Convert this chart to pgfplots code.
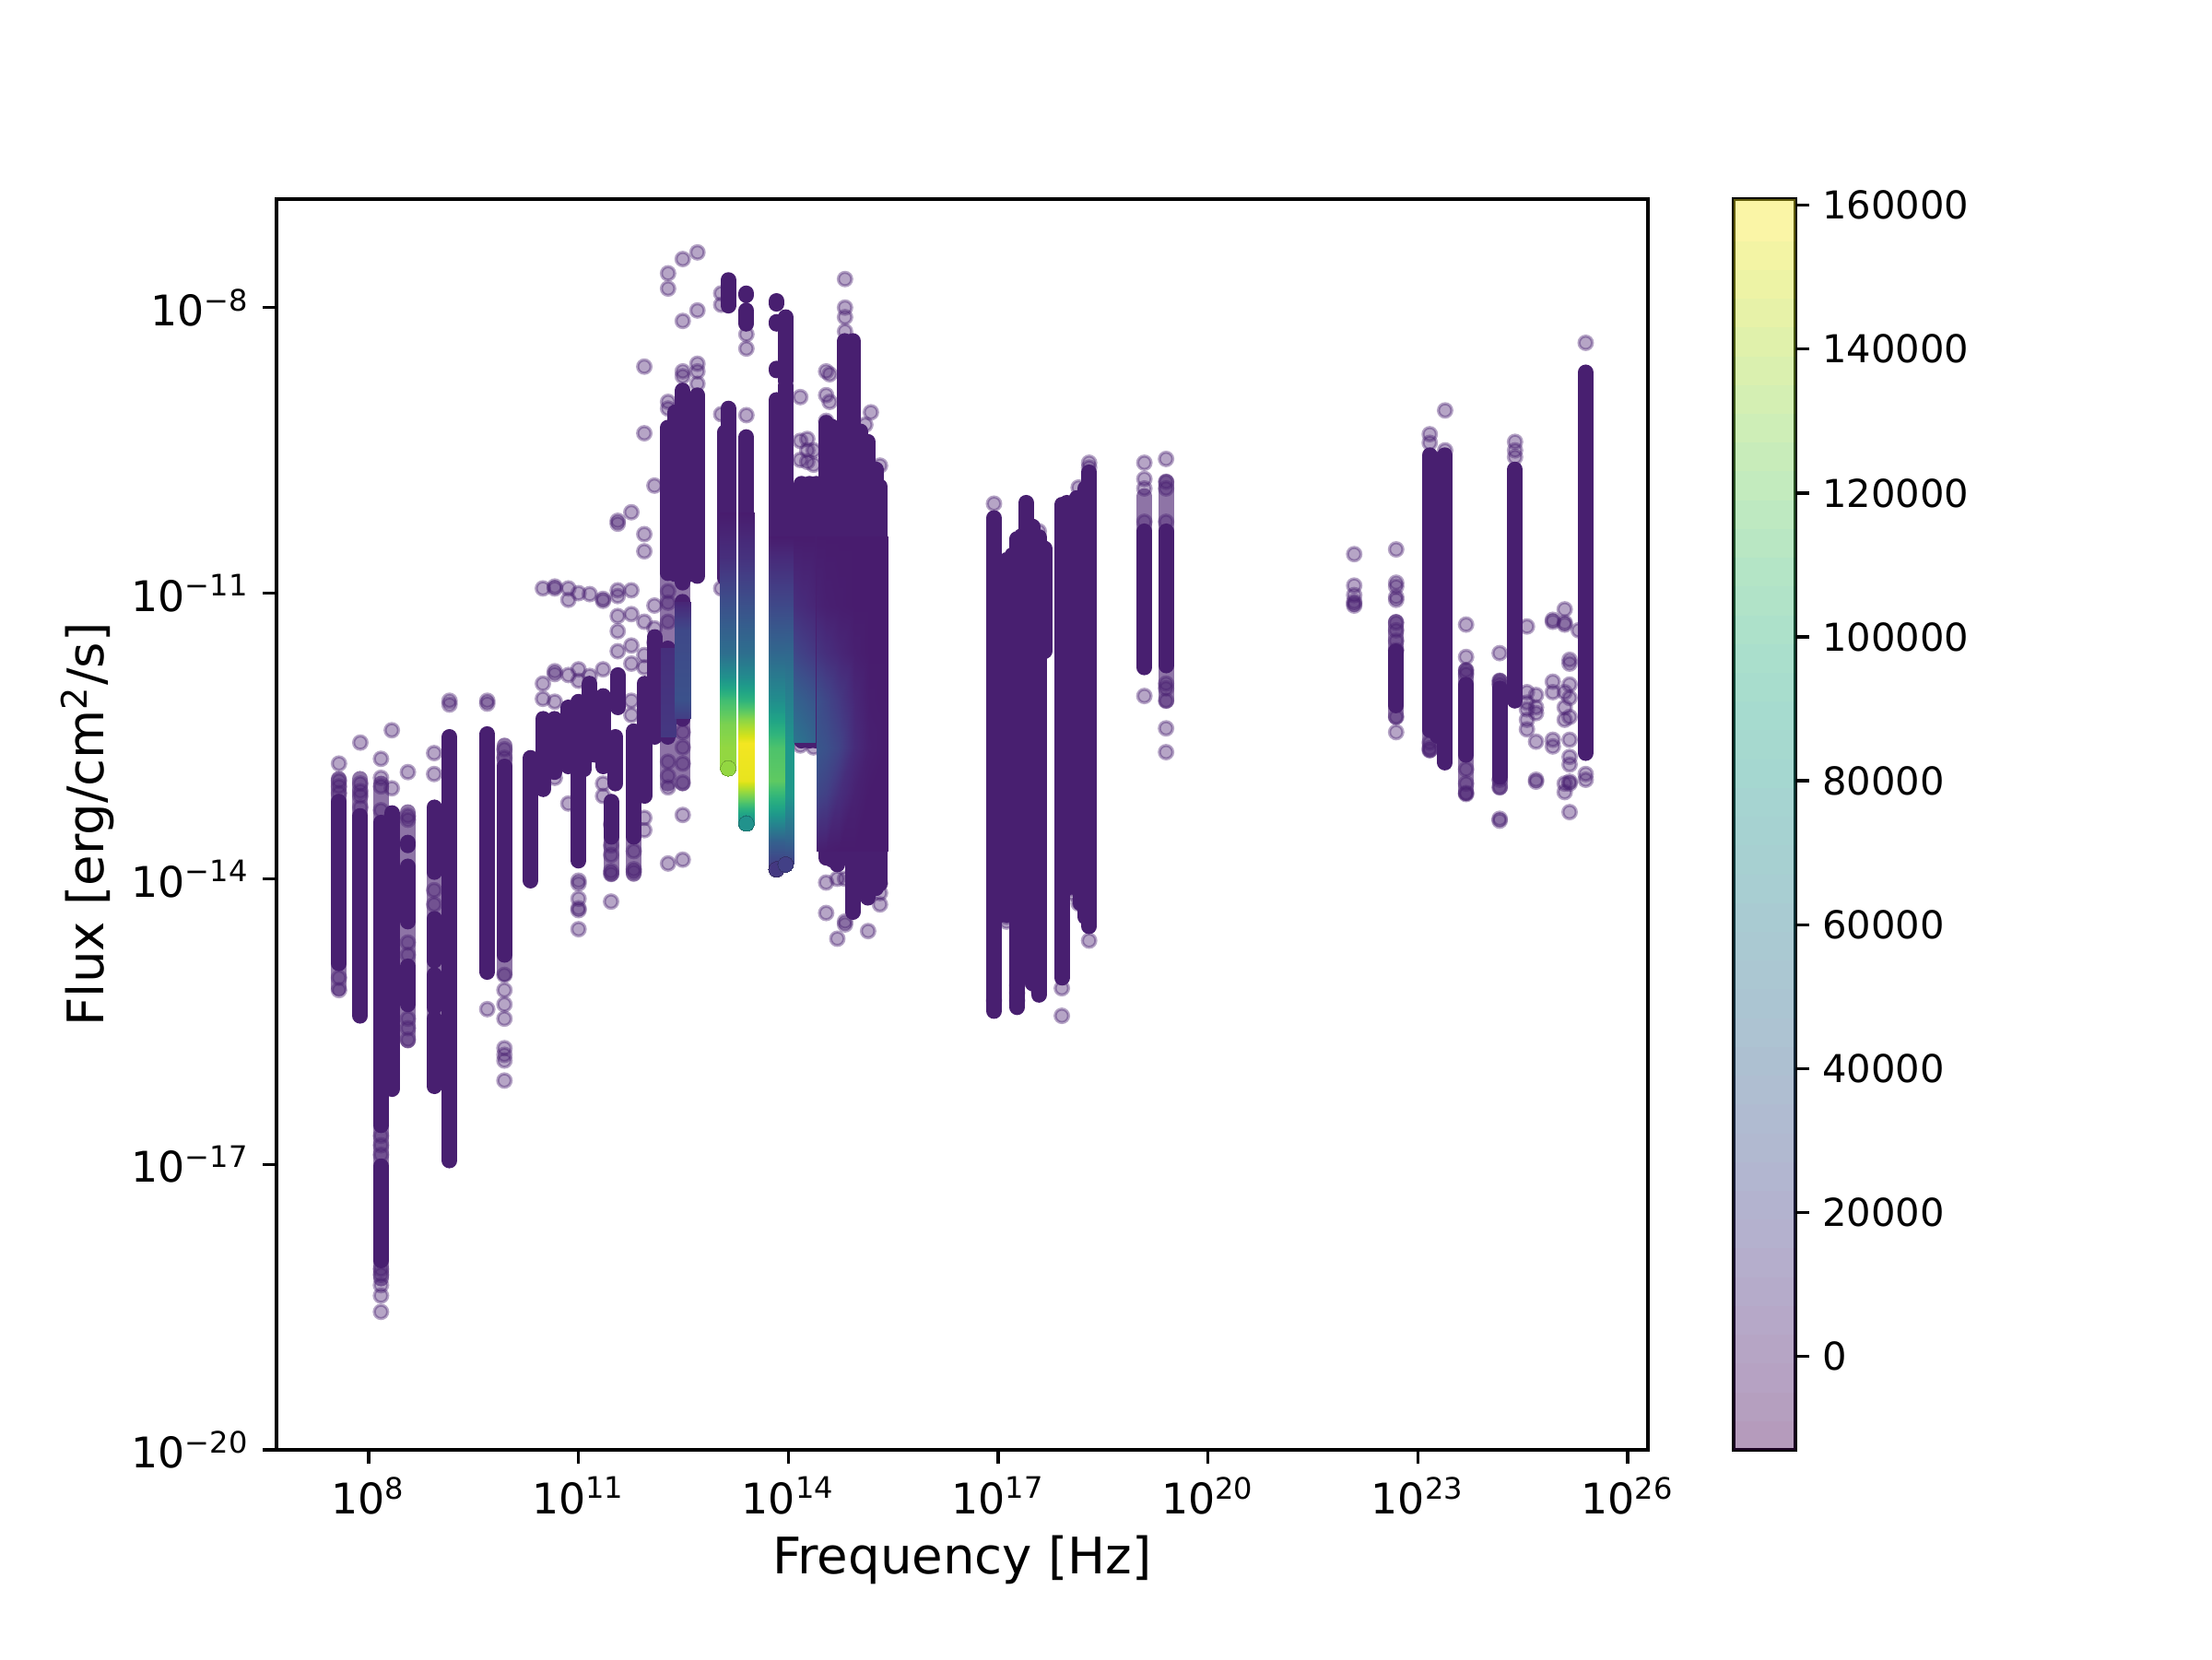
\documentclass[border=0pt]{standalone}
\usepackage{fontspec}
\setmainfont{DejaVu Sans}
\usepackage{pgfplots}
\usepackage{pgfplotstable}
\pgfplotsset{compat=1.18}
\definecolor{vz}{RGB}{72,31,112}
\pgfplotstableread{
a b
7.575 -12.79
7.575 -12.97
7.575 -13.03
7.575 -13.1
7.575 -15.04
7.575 -15.17
7.88 -12.57
7.88 -13.0
7.88 -13.08
7.88 -13.13
7.88 -13.25
8.175 -12.74
8.175 -12.94
8.175 -13.03
8.175 -13.28
8.175 -16.7
8.175 -16.8
8.175 -16.9
8.175 -18.1
8.175 -18.16
8.175 -18.27
8.175 -18.38
8.175 -18.55
8.33 -13.05
8.33 -12.44
8.56 -13.34
8.56 -13.38
8.56 -14.67
8.56 -14.8
8.56 -15.47
8.56 -15.57
8.56 -15.69
8.56 -12.88
8.935 -12.68
8.935 -12.90
8.935 -14.12
8.935 -14.27
9.155 -12.13
9.155 -12.17
9.695 -12.13
9.695 -12.16
9.695 -15.37
9.94 -12.64
9.94 -12.73
9.94 -15.01
9.94 -15.17
9.94 -15.32
9.94 -15.47
9.94 -15.78
9.94 -15.85
9.94 -15.91
9.94 -16.12
10.49 -11.95
10.49 -12.11
10.49 -10.95
10.66 -11.82
10.66 -11.85
10.66 -12.14
10.66 -10.95
10.66 -10.93
10.66 -12.94
10.855 -11.86
10.855 -10.95
10.855 -11.07
10.855 -13.21
11.0 -11.8
11.0 -11.92
11.0 -11.0
11.0 -14.02
11.0 -14.05
11.0 -14.21
11.0 -14.31
11.0 -14.33
11.0 -14.53
11.16 -11.01
11.16 -11.87
11.35 -11.8
11.35 -11.06
11.35 -11.08
11.35 -13.13
11.35 -13.0
11.465 -13.65
11.465 -13.75
11.465 -13.95
11.465 -13.92
11.465 -14.24
11.465 -13.43
11.56 -11.4
11.56 -11.61
11.56 -11.24
11.56 -10.97
11.56 -11.03
11.56 -10.24
11.56 -10.27
11.755 -10.15
11.755 -10.97
11.755 -11.22
11.755 -11.55
11.755 -11.74
11.755 -12.13
11.755 -12.28
11.79 -13.71
11.79 -13.93
11.79 -13.9
11.94 -10.38
11.94 -10.56
11.94 -11.3
11.94 -11.65
11.94 -11.78
11.94 -13.36
11.94 -13.49
11.94 -8.62
11.94 -9.32
12.085 -9.87
12.085 -11.13
12.085 -11.37
12.085 -11.52
12.28 -7.64
12.28 -7.8
12.28 -8.99
12.28 -9.06
12.28 -12.77
12.28 -12.92
12.28 -13.04
12.28 -13.84
12.28 -10.98
12.28 -11.1
12.28 -11.3
12.49 -7.49
12.49 -8.14
12.49 -8.67
12.49 -8.72
12.49 -12.46
12.49 -12.62
12.49 -12.79
12.49 -12.99
12.49 -13.33
12.49 -13.8
12.70 -7.42
12.70 -8.03
12.70 -8.59
12.70 -8.67
12.70 -8.8
13.04 -7.85
13.04 -7.97
13.04 -9.12
13.04 -10.95
13.40 -8.28
13.40 -8.43
13.40 -9.13
14.17 -8.94
14.17 -9.4
14.17 -9.6
14.17 -12.6
14.27 -9.38
14.27 -9.5
14.27 -9.62
14.36 -9.5
14.36 -9.65
14.36 -12.62
14.54 -8.67
14.54 -8.92
14.54 -9.19
14.54 -14.04
14.54 -14.36
14.59 -8.7
14.59 -8.99
14.7 -14.63
14.7 -14.0
14.81 -7.7
14.81 -8.0
14.81 -8.1
14.81 -8.25
14.81 -14.0
14.81 -14.45
14.81 -14.48
15.14 -14.55
15.18 -9.1
15.1 -9.23
15.31 -9.66
15.31 -14.27
15.31 -14.05
15.31 -14.15
16.94 -10.06
16.94 -15.28
17.12 -14.4
17.12 -14.45
17.27 -15.12
17.27 -15.2
17.27 -15.28
17.4 -15.05
17.58 -10.35
17.58 -15.18
17.91 -15.44
17.91 -15.15
18.05 -14.1
18.05 -14.15
18.05 -14.0
18.15 -14.26
18.15 -9.89
18.3 -14.65
18.3 -9.63
18.3 -9.68
19.09 -9.63
19.09 -9.8
19.09 -9.9
19.09 -10.25
19.09 -12.08
19.40 -9.59
19.40 -9.83
19.40 -9.9
19.40 -10.25
19.40 -11.95
19.40 -12.0
19.40 -12.13
19.40 -12.42
19.40 -12.67
22.09 -10.59
22.09 -10.92
22.09 -11.02
22.09 -11.11
22.09 -11.13
22.09 -11.09
22.69 -10.54
22.69 -10.89
22.69 -10.93
22.69 -11.04
22.69 -11.07
22.69 -11.31
22.69 -11.39
22.69 -11.5
22.69 -12.3
22.69 -12.46
22.69 -11.6
23.17 -9.33
23.17 -9.42
23.17 -12.57
23.17 -12.65
23.17 -12.63
23.39 -9.08
23.39 -9.5
23.69 -11.33
23.69 -11.67
23.69 -11.81
23.69 -11.85
23.69 -12.85
23.69 -13.0
23.69 -13.11
23.69 -13.1
24.17 -11.63
24.17 -11.92
24.17 -11.96
24.17 -12.96
24.17 -13.04
24.17 -13.39
24.17 -13.37
24.39 -9.41
24.39 -9.5
24.39 -9.57
24.56 -11.35
24.56 -12.04
24.56 -12.15
24.56 -12.22
24.56 -12.33
24.56 -12.43
24.69 -12.07
24.69 -12.26
24.69 -12.2
24.69 -12.56
24.69 -12.96
24.69 -12.98
24.93 -11.3
24.93 -11.28
24.93 -11.93
24.93 -12.04
24.93 -12.54
24.93 -12.61
25.1 -11.17
25.1 -11.33
25.1 -11.31
25.1 -12.04
25.1 -12.2
25.1 -12.33
25.1 -13.09
25.1 -13.0
25.17 -11.74
25.17 -11.7
25.17 -11.96
25.17 -12.1
25.17 -12.3
25.17 -12.54
25.17 -12.72
25.17 -12.8
25.17 -12.98
25.17 -13.0
25.17 -13.3
25.3 -11.39
25.40 -8.37
25.40 -12.9
25.40 -12.96
}\outliers
\begin{document}
\begin{tikzpicture}
\path[use as bounding box] (-72bp,-54.48bp) rectangle (504bp,377.52bp);
\begin{axis}[
  at={(0,0)},anchor=south west,scale only axis,
  width=357.12bp,height=325.68bp,
  xmode=log,ymode=log,
  xmin=4.8e6,xmax=1.95e26,ymin=1e-20,ymax=1.38e-7,
  xtick={1e8,1e11,1e14,1e17,1e20,1e23,1e26},
  ytick={1e-20,1e-17,1e-14,1e-11,1e-8},
  xticklabels={10\textsuperscript{8},10\textsuperscript{11},10\textsuperscript{14},10\textsuperscript{17},10\textsuperscript{20},10\textsuperscript{23},10\textsuperscript{26}},
  yticklabels={10\textsuperscript{−20},10\textsuperscript{−17},10\textsuperscript{−14},10\textsuperscript{−11},10\textsuperscript{−8}},
  minor x tick num=0,minor y tick num=0,
  minor xtick={},minor ytick={},
  tick align=outside,xtick pos=bottom,ytick pos=left,
  major tick length=3.5bp,
  axis line style={line width=0.8bp},
  every tick/.style={black,line width=0.8bp},
  tick label style={font=\fontsize{11bp}{13bp}\selectfont},
  xlabel={Frequency [Hz]},
  ylabel={Flux [erg/cm\textsuperscript{2}/s]},
  every axis x label/.style={at={(axis description cs:0.5,-0.088)},anchor=center},
  every axis y label/.style={at={(axis description cs:-0.138,0.5)},rotate=90,anchor=center},
  label style={font=\fontsize{13.1bp}{16bp}\selectfont},
  colormap name=viridis,
  point meta min=-13000,point meta max=160850,
  clip mode=individual,
]
% isolated translucent points
\addplot[only marks,mark=*,mark size=1.75bp,mark options={draw=vz,fill=vz,draw opacity=0.4,fill opacity=0.4,line width=0.8bp}]
 table[x expr=10^(\thisrow{a}),y expr=10^(\thisrow{b})] {\outliers};
% stretches of the columns where the points only partly overlap
\addplot[vz,opacity=0.62,line width=4.08bp,line cap=round,empty line=jump,unbounded coords=jump]
 table[x expr=10^(\thisrow{a}),y expr=10^(\thisrow{b})] {
a b
7.575 -12.95
7.575 -13.19

7.575 -14.89
7.575 -15.15

7.88 -12.95
7.88 -13.34

8.175 -13.0
8.175 -13.41

8.175 -16.59
8.175 -17.02

8.175 -18.01
8.175 -18.2

8.56 -13.3
8.56 -13.87

8.56 -14.45
8.56 -14.92

8.56 -15.32
8.56 -15.7

8.935 -13.93
8.935 -14.42

8.935 -14.86
8.935 -15.01

8.935 -15.35
8.935 -15.47

9.94 -12.6
9.94 -12.82

9.94 -14.8
9.94 -15.0

11.465 -13.56
11.465 -13.95

11.79 -13.56
11.79 -13.95

12.28 -10.79
12.28 -11.58

12.28 -12.51
12.28 -13.0

12.49 -10.89
12.49 -11.09

12.49 -12.32
12.49 -13.0

19.09 -9.98
19.09 -10.35

19.40 -9.83
19.40 -10.35

19.40 -11.76
19.40 -12.13

22.69 -11.3
22.69 -11.61

22.69 -12.18
22.69 -12.3

23.17 -12.44
23.17 -12.65

23.69 -11.81
23.69 -11.96

23.69 -12.7
23.69 -13.1

24.17 -11.92
24.17 -12.0

24.17 -12.93
24.17 -13.04
};
% dense columns
\addplot[vz,line width=4.08bp,line cap=round,empty line=jump,unbounded coords=jump]
 table[x expr=10^(\thisrow{a}),y expr=10^(\thisrow{b})] {
a b
7.575 -13.19
7.575 -14.89

7.88 -13.34
7.88 -15.44

8.175 -13.41
8.175 -16.59

8.175 -17.02
8.175 -18.01

8.33 -13.31
8.33 -16.21

8.56 -13.62
8.56 -13.65

8.56 -13.87
8.56 -14.45

8.56 -14.92
8.56 -15.32

8.935 -13.25
8.935 -13.93

8.935 -14.42
8.935 -14.86

8.935 -15.01
8.935 -15.35

8.935 -15.47
8.935 -16.18

9.155 -12.51
9.155 -16.96

9.695 -12.48
9.695 -14.98

9.94 -12.82
9.94 -14.8

10.315 -12.73
10.315 -14.02

10.49 -12.32
10.49 -13.06

10.66 -12.32
10.66 -12.88

10.855 -12.2
10.855 -12.82

11.0 -12.14
11.0 -13.81

11.08 -12.2
11.08 -12.85

11.16 -11.95
11.16 -12.7

11.25 -12.15
11.25 -12.7

11.35 -12.08
11.35 -12.82

11.465 -13.19
11.465 -13.56

11.56 -11.86
11.56 -12.2

11.53 -12.51
11.53 -13.0

11.79 -12.45
11.79 -13.56

11.94 -11.95
11.94 -13.13

12.085 -11.46
12.085 -12.51

12.28 -11.58
12.28 -12.51

12.28 -9.26
12.28 -10.79

12.38 -9.1
12.38 -10.8

12.49 -8.87
12.49 -10.89

12.49 -11.09
12.49 -12.32

12.6 -9.0
12.6 -10.8

12.70 -8.92
12.70 -10.82

13.14 -7.71
13.14 -7.98

13.09 -9.31
13.09 -10.84

13.14 -9.06
13.14 -12.7

13.40 -7.85
13.40 -7.87

13.40 -8.03
13.40 -8.17

13.40 -9.36
13.40 -13.3

13.83 -7.93
13.83 -7.96

13.83 -8.15
13.83 -8.17

13.83 -8.64
13.83 -8.66

13.83 -8.97
13.83 -13.78

13.96 -8.1
13.96 -8.77

13.96 -8.82
13.96 -13.73

14.19 -9.85
14.19 -12.55

14.3 -9.85
14.3 -12.55

14.4 -9.85
14.4 -12.55

14.54 -9.21
14.54 -13.78

14.62 -9.25
14.62 -13.8

14.7 -9.3
14.7 -13.85

14.81 -8.35
14.81 -13.6

14.92 -8.35
14.92 -14.35

15.03 -9.3
15.03 -14.0

15.14 -9.41
15.14 -14.2

15.25 -9.7
15.25 -14.1

15.31 -9.88
15.31 -14.05

16.94 -10.21
16.94 -15.39

17.03 -10.8
17.03 -14.38

17.12 -10.65
17.12 -14.38

17.2 -10.6
17.2 -14.38

17.27 -10.43
17.27 -15.35

17.33 -10.4
17.33 -15.0

17.4 -10.05
17.4 -15.02

17.49 -10.3
17.49 -15.1

17.58 -10.41
17.58 -15.22

17.66 -10.53
17.66 -11.61

17.91 -10.07
17.91 -15.04

17.98 -10.05
17.98 -14.1

18.05 -10.05
18.05 -14.02

18.12 -10.0
18.12 -14.1

18.18 -10.0
18.18 -14.26

18.24 -9.9
18.24 -14.4

18.30 -9.73
18.30 -14.5

19.09 -10.35
19.09 -11.78

19.40 -10.35
19.40 -11.76

22.69 -11.61
22.69 -12.18

23.17 -9.55
23.17 -12.44

23.28 -9.6
23.28 -12.5

23.39 -9.55
23.39 -12.78

23.69 -11.96
23.69 -12.7

24.17 -12.0
24.17 -12.93

24.39 -9.7
24.39 -12.13

25.40 -8.68
25.40 -12.68
};
% coloured part of the columns
\addplot[surf,shader=interp,point meta=explicit,mesh/cols=2] table[x expr=10^(\thisrow{a}),y expr=10^(\thisrow{b}),meta=m] {
a b m
12.17 -11.58 10000
12.39 -11.58 10000
12.17 -12.51 15000
12.39 -12.51 15000
};
\addplot[surf,shader=interp,point meta=explicit,mesh/cols=2] table[x expr=10^(\thisrow{a}),y expr=10^(\thisrow{b}),meta=m] {
a b m
12.38 -11.09 5000
12.60 -11.09 5000
12.38 -11.39 25000
12.60 -11.39 25000
12.38 -12.13 30000
12.60 -12.13 30000
12.38 -12.32 18000
12.60 -12.32 18000
};
\addplot[surf,shader=interp,point meta=explicit,mesh/cols=2] table[x expr=10^(\thisrow{a}),y expr=10^(\thisrow{b}),meta=m] {
a b m
13.025 -10.15 0
13.255 -10.15 0
13.025 -10.64 10000
13.255 -10.64 10000
13.025 -11.14 30000
13.255 -11.14 30000
13.025 -11.63 50000
13.255 -11.63 50000
13.025 -11.88 74000
13.255 -11.88 74000
13.025 -12.13 108000
13.255 -12.13 108000
13.025 -12.37 126000
13.255 -12.37 126000
13.025 -12.62 133000
13.255 -12.62 133000
13.025 -12.84 133000
13.255 -12.84 133000
};
\addplot[surf,shader=interp,point meta=explicit,mesh/cols=2] table[x expr=10^(\thisrow{a}),y expr=10^(\thisrow{b}),meta=m] {
a b m
13.285 -10.15 0
13.515 -10.15 0
13.285 -10.64 12000
13.515 -10.64 12000
13.285 -11.14 30000
13.515 -11.14 30000
13.285 -11.63 50000
13.515 -11.63 50000
13.285 -11.88 70000
13.515 -11.88 70000
13.285 -12.13 100000
13.515 -12.13 100000
13.285 -12.32 130000
13.515 -12.32 130000
13.285 -12.57 158000
13.515 -12.57 158000
13.285 -12.97 155000
13.515 -12.97 155000
13.285 -13.16 120000
13.515 -13.16 120000
13.285 -13.31 90000
13.515 -13.31 90000
13.285 -13.42 75000
13.515 -13.42 75000
};
\addplot[surf,shader=interp,point meta=explicit,mesh/cols=2] table[x expr=10^(\thisrow{a}),y expr=10^(\thisrow{b}),meta=m] {
a b m
13.85 -10.4 0
14.075 -10.4 0
13.85 -11.14 25000
14.075 -11.14 25000
13.85 -11.88 55000
14.075 -11.88 55000
13.85 -12.62 80000
14.075 -12.62 80000
13.85 -13.11 80000
14.075 -13.11 80000
13.85 -13.51 50000
14.075 -13.51 50000
13.85 -13.85 20000
14.075 -13.85 20000
};
\addplot[surf,shader=interp,point meta=explicit,mesh/cols=2] table[x expr=10^(\thisrow{a}),y expr=10^(\thisrow{b}),meta=m] {
a b m
13.715 -10.4 0
13.945 -10.4 0
13.715 -11.14 25000
13.945 -11.14 25000
13.715 -11.63 45000
13.945 -11.63 45000
13.715 -12.13 72000
13.945 -12.13 72000
13.715 -12.62 112000
13.945 -12.62 112000
13.715 -12.97 118000
13.945 -12.97 118000
13.715 -13.26 88000
13.945 -13.26 88000
13.715 -13.61 40000
13.945 -13.61 40000
13.715 -13.9 15000
13.945 -13.9 15000
};
\addplot[surf,shader=interp,point meta=explicit,mesh/cols=3] table[x expr=10^(\thisrow{a}),y expr=10^(\thisrow{b}),meta=m] {
a b m
14.08 -10.4 0
14.2 -10.4 0
14.39 -10.4 0
14.08 -11.14 10000
14.2 -11.14 8000
14.39 -11.14 5000
14.08 -11.63 24000
14.2 -11.63 20000
14.39 -11.63 15000
14.08 -12.13 42000
14.2 -12.13 38000
14.39 -12.13 32000
14.08 -12.57 55000
14.2 -12.57 50000
14.39 -12.57 42000
};
\addplot[surf,shader=interp,point meta=explicit,mesh/cols=6] table[x expr=10^(\thisrow{a}),y expr=10^(\thisrow{b}),meta=m] {
a b m
14.40 -10.4 0
14.54 -10.4 0
14.72 -10.4 0
14.94 -10.4 0
15.16 -10.4 0
15.42 -10.4 0
14.40 -11.14 4000
14.54 -11.14 2000
14.72 -11.14 1000
14.94 -11.14 0
15.16 -11.14 0
15.42 -11.14 0
14.40 -11.63 14000
14.54 -11.63 10000
14.72 -11.63 6000
14.94 -11.63 2000
15.16 -11.63 0
15.42 -11.63 0
14.40 -12.13 30000
14.54 -12.13 24000
14.72 -12.13 16000
14.94 -12.13 6000
15.16 -12.13 1000
15.42 -12.13 0
14.40 -12.62 34000
14.54 -12.62 30000
14.72 -12.62 22000
14.94 -12.62 8000
15.16 -12.62 2000
15.42 -12.62 0
14.40 -13.11 24000
14.54 -13.11 20000
14.72 -13.11 10000
14.94 -13.11 3000
15.16 -13.11 0
15.42 -13.11 0
14.40 -13.71 2000
14.54 -13.71 1000
14.72 -13.71 0
14.94 -13.71 0
15.16 -13.71 0
15.42 -13.71 0
};
\addplot[scatter,only marks,mark=*,mark size=2.04bp,scatter src=explicit,mark options={line width=0pt}]
 table[x expr=10^(\thisrow{a}),y expr=10^(\thisrow{b}),meta=m] {
a b m
13.14 -12.84 133000
13.40 -13.42 75000
13.83 -13.9 15000
13.96 -13.85 20000
};
\end{axis}
\begin{axis}[
  at={(379.44bp,0)},anchor=south west,scale only axis,
  width=16.08bp,height=325.68bp,
  xmin=-1,xmax=1,ymin=-13000,ymax=160850,
  xtick=\empty,
  ytick={0,20000,40000,60000,80000,100000,120000,140000,160000},
  ytick pos=right,yticklabel pos=right,tick align=outside,
  major tick length=3.5bp,
  axis line style={line width=0.8bp},
  every tick/.style={black,line width=0.8bp},
  scaled y ticks=false,
  tick label style={font=\fontsize{10bp}{12bp}\selectfont},
  /pgf/number format/assume math mode=true,
  /pgf/number format/fixed,/pgf/number format/precision=0,/pgf/number format/1000 sep={},
  colormap name=viridis,
  point meta min=-13000,point meta max=160850,
]
\addplot[mesh,line width=17bp,point meta=y,opacity=0.4] coordinates {
(0,-13000)(0,-9000)(0,-5000)(0,-1000)(0,3000)(0,7000)(0,11000)(0,15000)(0,19000)(0,23000)
(0,27000)(0,31000)(0,35000)(0,39000)(0,43000)(0,47000)(0,51000)(0,55000)(0,59000)(0,63000)
(0,67000)(0,71000)(0,75000)(0,79000)(0,83000)(0,87000)(0,91000)(0,95000)(0,99000)(0,103000)
(0,107000)(0,111000)(0,115000)(0,119000)(0,123000)(0,127000)(0,131000)(0,135000)(0,139000)
(0,143000)(0,147000)(0,151000)(0,155000)(0,160850)};
\end{axis}
\end{tikzpicture}
\end{document}
